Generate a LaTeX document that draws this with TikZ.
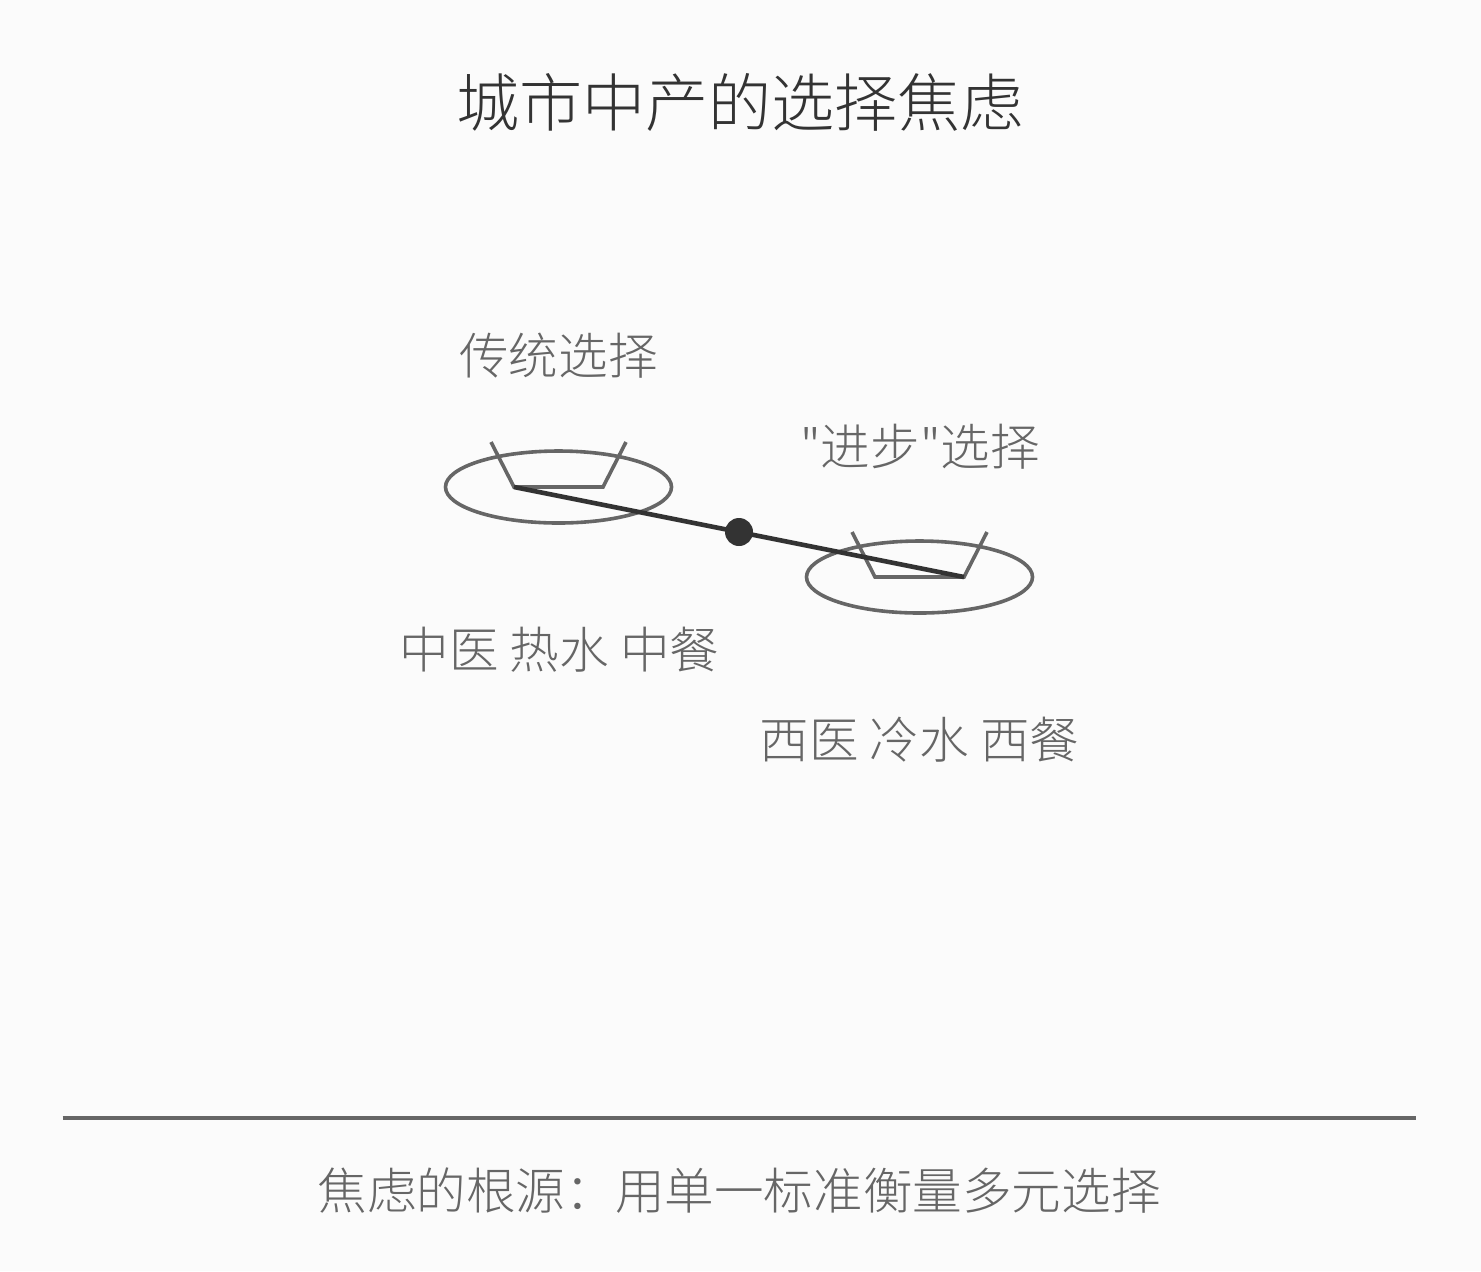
\documentclass[tikz,border=0pt]{standalone}
\usepackage{fontspec}
\newfontfamily\cjk{Noto Sans CJK SC Light}
\definecolor{bgc}{HTML}{FBFBFB}
\definecolor{dk}{HTML}{333333}
\definecolor{md}{HTML}{666666}
\tikzset{
  lbl/.style={text=md,font=\cjk\fontsize{24.8}{30}\selectfont,inner sep=0pt},
  ttl/.style={text=dk,font=\cjk\fontsize{31.55}{38}\selectfont,inner sep=0pt},
  shp/.style={draw=md,line width=1.8pt,fill=none},
}
\begin{document}
\begin{tikzpicture}[x=0.5pt,y=-0.5pt]
\useasboundingbox[fill=bgc] (0,0) rectangle (1481,1271);
\node[ttl] (title) at (740,102.5) {城市中产的选择焦虑};
\node[lbl] (l1) at (558.5,356) {传统选择};
\node[lbl] (l2) at (920,447) {"进步"选择};
\node[lbl] (l3) at (559.5,650) {中医 热水 中餐};
\node[lbl] (l4) at (919.5,740) {西医 冷水 西餐};
\node[lbl] (l5) at (739,1191) {焦虑的根源：用单一标准衡量多元选择};
\draw[shp] (558.5,487) ellipse [x radius=113,y radius=36];
\draw[shp] (919.5,577) ellipse [x radius=113,y radius=36];
\draw[shp] (491,442) -- (514,487) -- (603,487) -- (626,442);
\draw[shp] (852,532) -- (875,577) -- (964,577) -- (987,532);
\coordinate (b1) at (514,487);
\coordinate (b2) at (964,577);
\draw[dk,line width=2.3pt] (b1) -- (b2);
\node[circle,fill=dk,minimum size=14pt,inner sep=0pt] (piv) at (739,532) {};
\coordinate (r1) at (62.5,1118);
\coordinate (r2) at (1416,1118);
\draw[md,line width=2pt] (r1) -- (r2);
\end{tikzpicture}
\end{document}
